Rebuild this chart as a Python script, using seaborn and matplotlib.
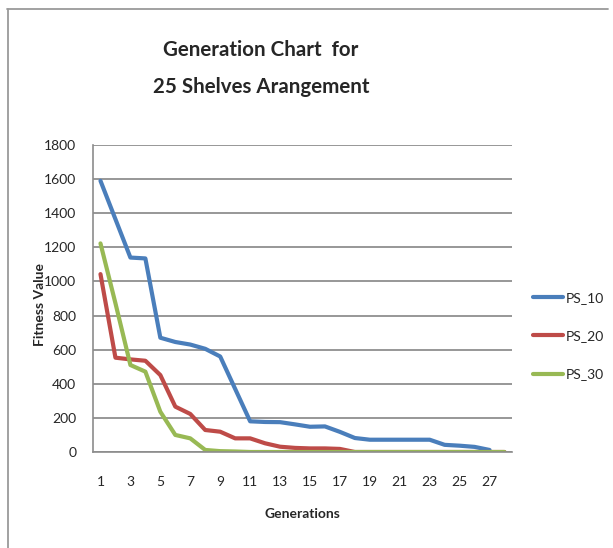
import seaborn as sns
import matplotlib.pyplot as plt
import matplotlib.lines as mlines
import numpy as np
import pandas as pd

# generasi 1..28
generations = list(range(1, 29))

ps_10 = [1590, 1365, 1140, 1135, 670, 645, 630, 605, 560, 370, 180, 176, 175, 162,
         148, 150, 118, 82, 72, 72, 72, 72, 72, 42, 37, 30, 12, np.nan]
ps_20 = [1043, 553, 543, 535, 451, 266, 223, 129, 119, 80, 80, 51, 31, 24,
         21, 21, 18, 0, 0, 0, 0, 0, 0, 0, 0, 0, 0, 0]
ps_30 = [1223, 872, 510, 471, 236, 100, 80, 12, 5, 3, 0, 0, 0, 0,
         0, 0, 0, 0, 0, 0, 0, 0, 0, 0, 0, 0, 0, 0]

series_names = ["PS_10", "PS_20", "PS_30"]
colors = ["#4A7EBB", "#BE4B48", "#98B954"]

x_tick_labels = [str(g) for g in generations if g % 2 == 1]
y_ticks = list(range(0, 1801, 200))

df = pd.DataFrame({
    "Generations": generations * 3,
    "Fitness Value": ps_10 + ps_20 + ps_30,
    "Series": sum([[n] * len(generations) for n in series_names], []),
})

sns.set_style("white")
plt.rcParams['font.family'] = ['Lato', 'DejaVu Sans']

fig = plt.figure(figsize=(6.13, 5.48), dpi=100)
ax = fig.add_axes([93 / 613, 1 - 452 / 548, 419 / 613, 307 / 548])

sns.lineplot(data=df, x="Generations", y="Fitness Value", hue="Series",
             palette=colors, linewidth=3, ax=ax, legend=False)

ax.set_xlim(0.5, 28.5)
ax.set_ylim(0, 1800)
ax.set_yticks(y_ticks)
ax.set_yticklabels([str(v) for v in y_ticks], fontsize=10)
ax.set_xticks([g for g in generations if g % 2 == 1])
ax.set_xticklabels(x_tick_labels, fontsize=10)
ax.tick_params(axis="x", length=0, pad=17)
ax.tick_params(axis="y", length=5, width=1, color="#8c8c8c", direction="out", pad=7)

ax.yaxis.grid(True, color="#8f8f8f", linewidth=1.3)
ax.set_axisbelow(True)
for s in ["top", "right"]:
    ax.spines[s].set_visible(False)
for s in ["left", "bottom"]:
    ax.spines[s].set_color("#8c8c8c")
    ax.spines[s].set_linewidth(1.2)

ax.set_xlabel("Generations", fontsize=10, fontweight="bold", labelpad=15)
ax.set_ylabel("Fitness Value", fontsize=10, fontweight="bold")
ax.yaxis.set_label_coords(-0.112, 0.482)

# legenda di kanan
handles = [mlines.Line2D([], [], color=c, linewidth=3) for c in colors]
fig.legend(handles, series_names, loc="center left", bbox_to_anchor=(533 / 613, 1 - 336 / 548),
           frameon=False, fontsize=10, handlelength=2.15, handletextpad=0.2, labelspacing=1.9,
           borderaxespad=0, borderpad=0)

# judul
fig.text(261 / 613, 1 - 50 / 548, "Generation Chart  for", ha="center", va="center",
         fontsize=14.8, fontweight="bold")
fig.text(261 / 613, 1 - 87 / 548, "25 Shelves Arangement", ha="center", va="center",
         fontsize=14.8, fontweight="bold")

# bingkai chart
fig.add_artist(mlines.Line2D([8 / 613, 8 / 613], [0, 1 - 9 / 548], color="#9a9a9a", linewidth=1.3))
fig.add_artist(mlines.Line2D([7 / 613, 608 / 613], [1 - 9 / 548, 1 - 9 / 548], color="#9a9a9a", linewidth=1.3))

fig.savefig("out.png", dpi=100)
